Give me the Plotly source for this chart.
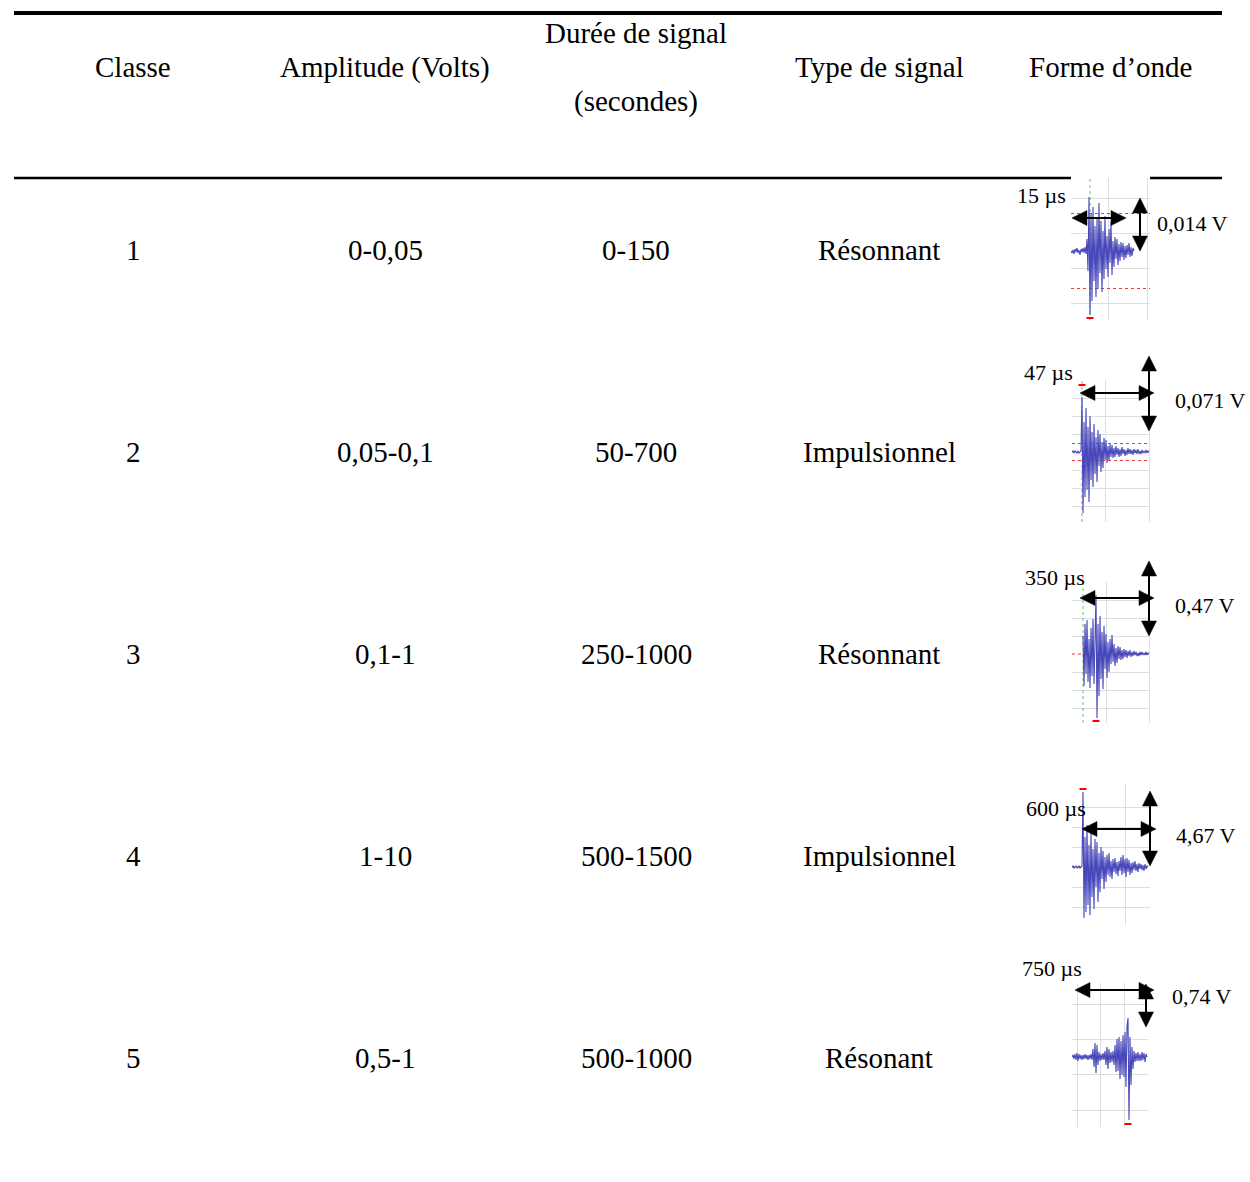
import plotly.graph_objects as go

W, H = 1250, 1182

# ---------------- table data ----------------
header = ["Classe", "Amplitude (Volts)", "Durée de signal\n(secondes)", "Type de signal", "Forme d’onde"]
classes = ["1", "2", "3", "4", "5"]
amplitudes = ["0-0,05", "0,05-0,1", "0,1-1", "1-10", "0,5-1"]
durations = ["0-150", "50-700", "250-1000", "500-1500", "500-1000"]
signal_types = ["Résonnant", "Impulsionnel", "Résonnant", "Impulsionnel", "Résonant"]
wave_durations = ["15 µs", "47 µs", "350 µs", "600 µs", "750 µs"]
wave_amplitudes = ["0,014 V", "0,071 V", "0,47 V", "4,67 V", "0,74 V"]

# ---------------- waveform samples ----------------
wave1_start = 0
wave1 = [0, -2, 1, -3, 2, -1, 3, -2, 1, -4, 2, -1, 3, -2, 4, -3,
         12, -20, 54, -64, 38, -50, 44, -30, 25, -46, 32, -38, 48, -22,
         30, -41, 20, -28, 35, -18, 15, -26, 22, -12, 29, -24, 10, -16,
         14, -8, 12, -14, 7, -10, 9, -6, 8, -9, 5, -7, 6, -4, 8, -6, 4, -5, 3, 0]

wave2_start = 0
wave2 = [0, 1, -1, 1, 0, -1, 1, -1, 0, 1,
         55, -61, 30, -45, 44, -38, 25, -50, 36, -28, 20, -35, 28, -22,
         15, -30, 22, -14, 18, -20, 10, -16, 14, -8, 12, -11, 6, -9, 8, -5,
         7, -6, 4, -5, 6, -3, 4, -5, 3, -4, 5, -2, 3, -4, 2, -3, 4, -2, 3,
         -2, 2, -3, 3, -1, 2, -2, 3, -2, 1, -2, 2, -1, 1, -1, 2, -1, 1, 0]

wave3_start = 11
wave3 = [18, -32, 30, -20, 34, -28, 15, -34, 26, -22, 35, -30, 12,
         59, -64, 30, -42, 38, -25, 22, -35, 28, -15, 20, -24, 12, -18,
         15, -10, 19, -8, 10, -12, 6, -9, 8, -5, 7, -6, 4, -5, 5, -3, 4,
         -4, 3, -2, 4, -3, 2, -2, 3, -1, 2, -2, 1, -2, 2, -1, 2, -1, 1,
         -1, 2, -1, 1, 0]

wave4_start = 0
wave4 = [0, 1, -1, 0, 1, -1, 0, 1, -1, 0, 1,
         75, -51, 30, -45, 42, -38, 22, -48, 35, -30, 18, -42, 28, -20,
         25, -35, 14, -25, 20, -12, 16, -22, 10, -15, 12, -8, 14, -10, 6,
         -12, 8, -5, 9, -7, 5, -9, 6, -4, 10, -8, 12, -6, 8, -10, 9, -5, 7,
         -8, 4, -6, 5, -3, 6, -4, 3, -5, 4, -2, 3, -3, 2, -4, 3, -2, 1, 0]

wave5_start = 0
wave5 = [0, 2, -2, 3, -3, 4, -4, 3, -2, 2, -3, 2, -2, 3, -2, 2, -3, 2,
         -2, 3, -3, 8, -10, 14, -16, 12, -8, 5, -4, 3, -3, 4, -3, 6, -8,
         10, -12, 8, -6, 5, -5, 6, -8, 12, -15, 18, -14, 20, -22, 16, -18,
         22, -20, 25, -30, 30, 39, -63, 20, -28, 10, -12, 6, -5, 4, -4, 5,
         -4, 3, -4, 5, -3, 4, -5, 3, 0]

waves = [(wave1_start, wave1), (wave2_start, wave2), (wave3_start, wave3),
         (wave4_start, wave4), (wave5_start, wave5)]

# ---------------- layout helpers ----------------
def px(x):
    return x / W


def py(y):
    return 1 - y / H


FONT = "Liberation Serif, Times New Roman, serif"
BLUE = "rgb(72,72,186)"

col_x = [133, 385, 636, 879, 1111]
row_y = [250, 452, 654, 856, 1058]

# waveform panels: pixel box, y-range, grids, trigger, thresholds, marker
panels = [
    dict(box=(1071, 178, 1150, 320), xr=[0, 79], yr=[-69, 73], xg=[37, 76],
         yg=[-52.5, -17.5, 17.5, 52.5], trig=19, thr=[37.5, -37.5], mk=(19, -67)),
    dict(box=(1072, 380, 1150, 522), xr=[0, 78], yr=[-70, 72], xg=[33, 77],
         yg=[-54, -36, -18, 18, 36, 54], trig=10, thr=[8.5, -8.5], mk=(10, 67)),
    dict(box=(1072, 582, 1150, 723), xr=[0, 78], yr=[-69, 72], xg=[34, 77],
         yg=[-54, -36, -18, 18, 36, 54], trig=11, thr=[0], mk=(24, -67)),
    dict(box=(1072, 783, 1150, 925), xr=[0, 78], yr=[-58, 84], xg=[53],
         yg=[-40, -20, 20, 40, 60], trig=None, thr=[0], mk=(11, 78)),
    dict(box=(1072, 983, 1148, 1127), xr=[0, 76], yr=[-70, 74], xg=[5, 28, 52, 75],
         yg=[-53, -17.75, 17.75, 53], trig=None, thr=[], mk=(56, -67)),
]

# arrows: (h_y, h_x1, h_x2, v_x, v_y1, v_y2)
arrows = [
    (218, 1072, 1126, 1140, 198, 251),
    (393, 1080, 1154, 1149, 356, 431),
    (598, 1080, 1154, 1149, 561, 636),
    (829, 1082, 1156, 1150, 791, 866),
    (990, 1075, 1154, 1146, 984, 1027),
]
dur_label_pos = [(1041, 196), (1048, 373), (1055, 577), (1056, 808), (1052, 968)]
amp_label_pos = [(1192, 224), (1210, 400), (1205, 605), (1206, 835), (1202, 996)]

fig = go.Figure()
layout_axes = {}

for i, (panel, (start, vals)) in enumerate(zip(panels, waves)):
    n = "" if i == 0 else str(i + 1)
    xa, ya = "x" + n, "y" + n
    x0, y0, x1, y1 = panel["box"]
    xr, yr = panel["xr"], panel["yr"]
    for t in panel["thr"]:
        fig.add_trace(go.Scatter(x=xr, y=[t, t], mode="lines", xaxis=xa, yaxis=ya,
                                 line=dict(color="rgb(230,60,60)", width=1, dash="dot"),
                                 hoverinfo="skip"))
    if panel["trig"] is not None:
        fig.add_trace(go.Scatter(x=[panel["trig"], panel["trig"]], y=yr, mode="lines",
                                 xaxis=xa, yaxis=ya,
                                 line=dict(color="rgb(110,190,110)", width=1, dash="dot"),
                                 hoverinfo="skip"))
    xs = [start + k for k in range(len(vals))]
    fig.add_trace(go.Scatter(x=xs, y=vals, mode="lines", xaxis=xa, yaxis=ya,
                             line=dict(color=BLUE, width=1.1), hoverinfo="skip"))
    mx, my = panel["mk"]
    fig.add_trace(go.Scatter(x=[mx], y=[my], mode="markers", xaxis=xa, yaxis=ya,
                             marker=dict(symbol="line-ew", size=5, color="red",
                                         line=dict(color="red", width=2)),
                             hoverinfo="skip"))
    common = dict(showticklabels=False, ticks="", zeroline=False, showline=False,
                  showgrid=True, gridcolor="rgb(222,222,222)", gridwidth=1.2,
                  fixedrange=True)
    layout_axes["xaxis" + n] = dict(domain=[px(x0), px(x1)], range=xr,
                                    tickvals=panel["xg"], anchor=ya, **common)
    layout_axes["yaxis" + n] = dict(domain=[py(y1), py(y0)], range=yr,
                                    tickvals=panel["yg"], anchor=xa, **common)

shapes = []
shapes.append(dict(type="line", xref="paper", yref="paper", x0=px(14), x1=px(1222),
                   y0=py(13), y1=py(13), line=dict(color="black", width=4)))
shapes.append(dict(type="line", xref="paper", yref="paper", x0=px(14), x1=px(1071),
                   y0=py(178), y1=py(178), line=dict(color="black", width=2.5)))
shapes.append(dict(type="line", xref="paper", yref="paper", x0=px(1150), x1=px(1222),
                   y0=py(178), y1=py(178), line=dict(color="black", width=2.5)))

HL, HW = 15, 7.5


def tri(pts):
    s = "M " + " L ".join(f"{px(a):.6f},{py(b):.6f}" for a, b in pts) + " Z"
    return dict(type="path", xref="paper", yref="paper", path=s,
                fillcolor="black", line=dict(color="black", width=0.5), layer="above")


for (hy, hx1, hx2, vx, vy1, vy2) in arrows:
    shapes.append(dict(type="line", xref="paper", yref="paper", x0=px(hx1 + HL - 1),
                       x1=px(hx2 - HL + 1), y0=py(hy), y1=py(hy),
                       line=dict(color="black", width=2), layer="above"))
    shapes.append(tri([(hx1, hy), (hx1 + HL, hy - HW), (hx1 + HL, hy + HW)]))
    shapes.append(tri([(hx2, hy), (hx2 - HL, hy - HW), (hx2 - HL, hy + HW)]))
    shapes.append(dict(type="line", xref="paper", yref="paper", x0=px(vx), x1=px(vx),
                       y0=py(vy1 + HL - 1), y1=py(vy2 - HL + 1),
                       line=dict(color="black", width=2), layer="above"))
    shapes.append(tri([(vx, vy1), (vx - HW, vy1 + HL), (vx + HW, vy1 + HL)]))
    shapes.append(tri([(vx, vy2), (vx - HW, vy2 - HL), (vx + HW, vy2 - HL)]))

annotations = []


def txt(s, x, y, size=29):
    annotations.append(dict(text=s, x=px(x), y=py(y), xref="paper", yref="paper",
                            xanchor="center", yanchor="middle", showarrow=False,
                            font=dict(family=FONT, size=size, color="black")))


for cx, h in zip(col_x, header):
    parts = h.split("\n")
    if len(parts) == 1:
        txt(parts[0], cx, 67)
    else:
        txt(parts[0], cx, 33)
        txt(parts[1], cx, 101)

for r, ry in enumerate(row_y):
    txt(classes[r], col_x[0], ry)
    txt(amplitudes[r], col_x[1], ry)
    txt(durations[r], col_x[2], ry)
    txt(signal_types[r], col_x[3], ry)
    txt(wave_durations[r], *dur_label_pos[r], size=22)
    txt(wave_amplitudes[r], *amp_label_pos[r], size=22)

fig.update_layout(width=W, height=H, margin=dict(l=0, r=0, t=0, b=0),
                  paper_bgcolor="white", plot_bgcolor="rgba(0,0,0,0)",
                  showlegend=False, shapes=shapes, annotations=annotations,
                  **layout_axes)

fig.write_html("out.html", config={"displayModeBar": False},
               post_script="document.body.style.margin='0px';document.body.style.overflow='hidden';")
